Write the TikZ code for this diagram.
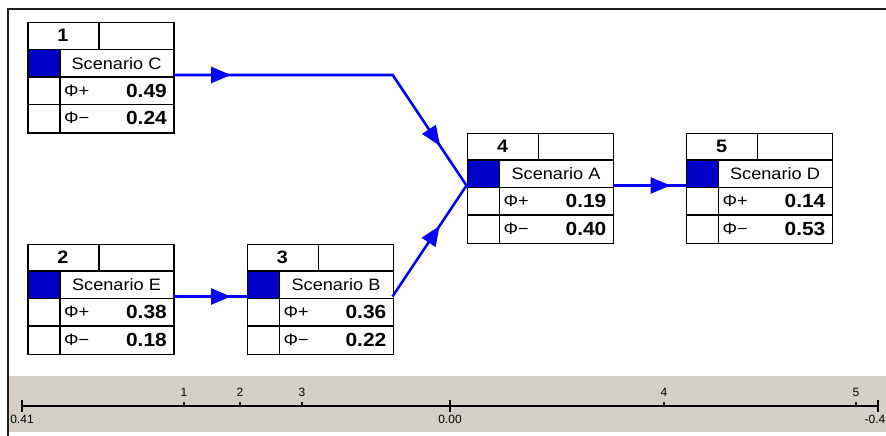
\documentclass[tikz,border=0pt]{standalone}
\usepackage{fontspec}
\setmainfont{Liberation Sans}
\newfontfamily\uifont[FakeStretch=1.1]{Liberation Sans}
\newfontfamily\axfont{Liberation Sans}
\usetikzlibrary{arrows.meta,decorations.markings,calc}
\definecolor{linkblue}{HTML}{0000FF}
\definecolor{cellblue}{HTML}{0000C8}
\definecolor{panelgray}{HTML}{D4D0C8}
\definecolor{framegray}{HTML}{1E1E1E}
\newcommand{\linktip}{\arrow{Triangle[length=20pt,width=16pt]}}
\tikzset{
  scbox/.style={draw=black, line width=1.5pt, minimum width=146pt, minimum height=110pt, inner sep=0pt, anchor=north west},
  gridline/.style={draw=black, line width=1.5pt},
  numtxt/.style={font=\uifont\bfseries\fontsize{18}{20}\selectfont, inner sep=0pt},
  titletxt/.style={font=\uifont\fontsize{16.5}{18}\selectfont, inner sep=0pt},
  phitxt/.style={font=\uifont\fontsize{16.5}{18}\selectfont, inner sep=0pt, anchor=west},
  valtxt/.style={font=\uifont\bfseries\fontsize{19}{20}\selectfont, inner sep=0pt, anchor=east},
  conn/.style={draw=linkblue, line width=2.6pt, line join=miter},
  axtxt/.style={font=\axfont\fontsize{12}{13}\selectfont, inner sep=0pt},
  axline/.style={draw=black, line width=1.8pt},
  smalltick/.style={draw=black, line width=1.3pt},
}
\newcommand{\scenbox}[7]{%
  \begin{scope}[shift={(#2,#3)}]
    \fill[cellblue] (0,27.5) rectangle (33,55);
    \node[scbox] (#1) at (0,0) {};
    \draw[gridline] (0,27.5) -- (146,27.5) (0,55) -- (146,55) (0,82.5) -- (146,82.5)
      (33,27.5) -- (33,110) (72,0) -- (72,27.5);
    \node[numtxt] (#1-num) at (36,13.75) {#4};
    \node[titletxt] (#1-title) at (89.5,41.25) {#5};
    \node[phitxt] (#1-pl) at (37,68.75) {Φ+};
    \node[valtxt] (#1-pv) at (140,68.75) {#6};
    \node[phitxt] (#1-ml) at (37,96.25) {Φ−};
    \node[valtxt] (#1-mv) at (140,96.25) {#7};
    \coordinate (#1-in) at (0,53);
    \coordinate (#1-out) at (146,53);
  \end{scope}}
\begin{document}
\begin{tikzpicture}[x=1pt,y=-1pt]
  \useasboundingbox (0,0) rectangle (886,436);
  \fill[white] (0,0) rectangle (886,436);
  % bottom panel
  \fill[panelgray] (9,376) rectangle (886,432);
  % frame
  \draw[framegray, line width=2pt] (8,436) -- (8,9) -- (886,9);

  % scenario boxes
  \scenbox{n1}{27}{22}{1}{Scenario C}{0.49}{0.24}
  \scenbox{n2}{27}{243.5}{2}{Scenario E}{0.38}{0.18}
  \scenbox{n3}{246.5}{243.5}{3}{Scenario B}{0.36}{0.22}
  \scenbox{n4}{466.5}{132.5}{4}{Scenario A}{0.19}{0.40}
  \scenbox{n5}{685.5}{132.5}{5}{Scenario D}{0.14}{0.53}

  % connectors
  \coordinate (b1) at (392.7,75);
  \draw[conn, postaction={decorate}, decoration={markings,
      mark=at position 58pt with {\linktip},
      mark=at position 305pt with {\linktip}}]
    (n1-out) -- (b1) -- (n4-in);
  \draw[conn, postaction={decorate}, decoration={markings,
      mark=at position 85pt with {\linktip}}]
    (n3-out) -- (n4-in);
  \draw[conn, postaction={decorate}, decoration={markings,
      mark=at position 58pt with {\linktip}}]
    (n2-out) -- (n3-in);
  \draw[conn, postaction={decorate}, decoration={markings,
      mark=at position 58pt with {\linktip}}]
    (n4-out) -- (n5-in);

  % axis
  \coordinate (axl) at (22,406);
  \coordinate (axc) at (450,406);
  \coordinate (axr) at (878,406);
  \draw[axline] (axl) -- (axr);
  \draw[axline] ($(axl)+(0,-6)$) -- ($(axl)+(0,6)$);
  \draw[axline] ($(axc)+(0,-6)$) -- ($(axc)+(0,6)$);
  \draw[axline] ($(axr)+(0,-6)$) -- ($(axr)+(0,6)$);
  \node[axtxt] (al) at (22,419) {0.41};
  \node[axtxt] (ac) at (450,419) {0.00};
  \node[axtxt, anchor=east] (ar) at (885.5,419) {-0.4};
  \foreach \xx/\lab in {184/1,240/2,302/3,664/4,856/5}{
    \draw[smalltick] (\xx,402) -- (\xx,406);
    \node[axtxt] (t\lab) at (\xx,392) {\lab};
  }
\end{tikzpicture}
\end{document}
